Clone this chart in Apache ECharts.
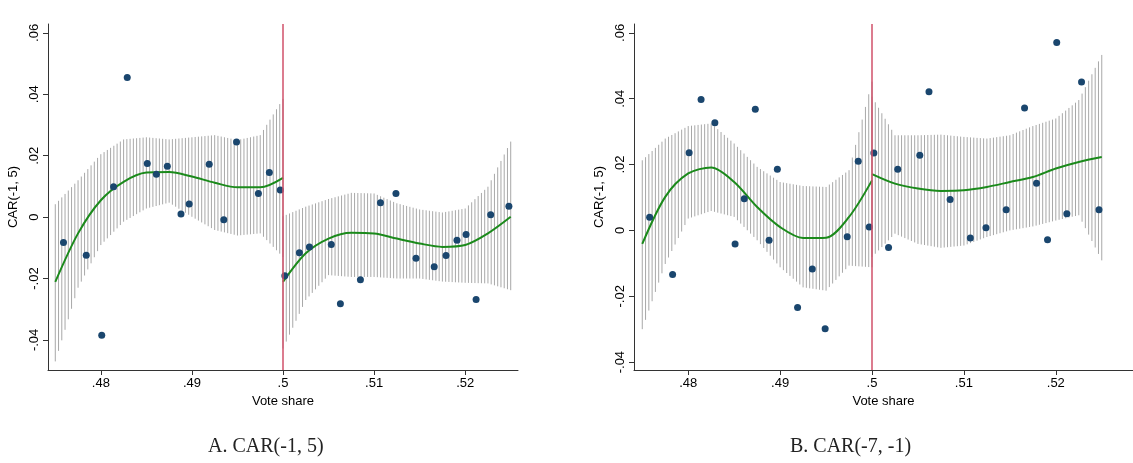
<!DOCTYPE html>
<html><head><meta charset="utf-8">
<script src="https://cdn.jsdelivr.net/npm/echarts@6/dist/echarts.min.js"></script>
<style>body{margin:0;background:#fff}#main{width:1133px;height:463px}</style>
</head><body><div id="main"></div>
<script>
// scatter bins, panel A
var ptsA = [[0.4759,-0.0083],[0.4784,-0.0124],[0.4801,-0.0385],[0.4814,0.0099],[0.4829,0.0455],[0.4851,0.0175],[0.4861,0.0140],[0.4873,0.0166],[0.4888,0.0010],[0.4897,0.0043],[0.4919,0.0172],[0.4935,-0.0009],[0.4949,0.0245],[0.4973,0.0077],[0.4985,0.0145],[0.4997,0.0088],
  [0.5002,-0.0191],[0.5018,-0.0116],[0.5029,-0.0097],[0.5053,-0.0089],[0.5063,-0.0282],[0.5085,-0.0204],[0.5107,0.0047],[0.5124,0.0077],[0.5146,-0.0134],[0.5166,-0.0162],[0.5179,-0.0125],[0.5191,-0.0075],[0.5201,-0.0057],[0.5212,-0.0268],[0.5228,0.0008],[0.5248,0.0035]];
// scatter bins, panel B
var ptsB = [[0.4758,0.0040],[0.4783,-0.0134],[0.4801,0.0236],[0.4814,0.0398],[0.4829,0.0327],[0.4851,-0.0041],[0.4861,0.0096],[0.4873,0.0368],[0.4888,-0.0030],[0.4897,0.0186],[0.4919,-0.0234],[0.4935,-0.0117],[0.4949,-0.0299],[0.4973,-0.0019],[0.4985,0.0210],[0.4997,0.0010],
  [0.5002,0.0235],[0.5018,-0.0052],[0.5028,0.0186],[0.5052,0.0228],[0.5062,0.0421],[0.5085,0.0094],[0.5107,-0.0023],[0.5124,0.0008],[0.5146,0.0063],[0.5166,0.0372],[0.5179,0.0143],[0.5191,-0.0028],[0.5201,0.0571],[0.5212,0.0051],[0.5228,0.0451],[0.5247,0.0063]];

var knotsL = [0.475,0.4775,0.48,0.4825,0.485,0.4875,0.49,0.4925,0.495,0.4975,0.5];
var knotsR = [0.5,0.5025,0.505,0.5075,0.51,0.5125,0.515,0.5175,0.52,0.5225,0.525];

var fitAL = [-0.0211,-0.0053,0.0055,0.0115,0.0145,0.0147,0.0132,0.0112,0.0097,0.0097,0.0128];
var hiAL  = [0.0042,0.0120,0.0205,0.0253,0.0260,0.0253,0.0260,0.0267,0.0251,0.0267,0.0385];
var loAL  = [-0.0470,-0.0230,-0.0091,-0.0015,0.0028,0.0047,0.0001,-0.0042,-0.0060,-0.0053,-0.0130];
var fitAR = [-0.0211,-0.0118,-0.0070,-0.0051,-0.0053,-0.0070,-0.0086,-0.0097,-0.0091,-0.0053,0.0001];
var hiAR  = [0.0003,0.0034,0.0059,0.0079,0.0077,0.0045,0.0025,0.0015,0.0028,0.0099,0.0246];
var loAR  = [-0.0428,-0.0270,-0.0189,-0.0195,-0.0195,-0.0200,-0.0200,-0.0210,-0.0214,-0.0216,-0.0238];

var fitBL = [-0.0041,0.0102,0.0173,0.0191,0.0147,0.0071,0.0010,-0.0023,-0.0022,0.0041,0.0152];
var hiBL  = [0.0213,0.0279,0.0317,0.0325,0.0264,0.0193,0.0147,0.0135,0.0132,0.0183,0.0452];
var loBL  = [-0.0300,-0.0102,0.0036,0.0059,0.0041,-0.0030,-0.0112,-0.0173,-0.0183,-0.0107,-0.0112];
var fitBR = [0.0171,0.0142,0.0127,0.0120,0.0122,0.0132,0.0147,0.0162,0.0188,0.0208,0.0223];
var hiBR  = [0.0406,0.0289,0.0289,0.0291,0.0284,0.0279,0.0289,0.0317,0.0340,0.0396,0.0533];
var loBR  = [-0.0081,-0.0010,-0.0041,-0.0053,-0.0046,-0.0020,0.0000,0.0012,0.0030,0.0046,-0.0091];

var yTicks = [-0.04,-0.02,0,0.02,0.04,0.06];
var xTicks = [0.48,0.49,0.5,0.51,0.52];

function fmt(v){ if (Math.abs(v) < 1e-9) return '0'; var s = (+v.toFixed(2)).toString(); return s.replace('0.', '.'); }
function pairs(xs, ys){ return xs.map(function(x,i){ return [x, ys[i]]; }); }
function segs(xs, lo, hi){
  var out = [];
  for (var i = 0; i < xs.length - 1; i++) out.push([xs[i], lo[i], hi[i], xs[i+1], lo[i+1], hi[i+1], i === xs.length - 2 ? 1 : 0]);
  return out;
}
// hatched CI: vertical lines drawn across each knot segment
function renderCI(params, api){
  var a0 = api.coord([api.value(0), api.value(1)]), b0 = api.coord([api.value(0), api.value(2)]);
  var a1 = api.coord([api.value(3), api.value(4)]), b1 = api.coord([api.value(3), api.value(5)]);
  var n = 7, kids = [], last = api.value(6) ? n : n - 1;
  for (var k = 0; k <= last; k++) {
    var t = k / n;
    var x = a0[0] + (a1[0] - a0[0]) * t;
    kids.push({type:'line', shape:{x1:x, y1:a0[1] + (a1[1]-a0[1])*t, x2:x, y2:b0[1] + (b1[1]-b0[1])*t},
      style:{stroke:'#a8a8a8', lineWidth:1}});
  }
  return {type:'group', children:kids};
}

var grids = [
  {left:48, top:24, width:470, height:346, xmin:0.4742, xmax:0.5258, ymin:-0.0498, ymax:0.0629},
  {left:634, top:24, width:499, height:346, xmin:0.4741, xmax:0.5284, ymin:-0.0424, ymax:0.0627}
];
var panels = [
  {pts:ptsA, fL:fitAL, hL:hiAL, lL:loAL, fR:fitAR, hR:hiAR, lR:loAR},
  {pts:ptsB, fL:fitBL, hL:hiBL, lL:loBL, fR:fitBR, hR:hiBR, lR:loBR}
];

var option = {
  animation:false,
  textStyle:{fontFamily:'Liberation Sans, Arial'},
  grid: grids.map(function(g){ return {left:g.left, top:g.top, width:g.width, height:g.height}; }),
  xAxis: grids.map(function(g,i){ return {gridIndex:i, type:'value', min:g.xmin, max:g.xmax,
    name:'Vote share', nameLocation:'middle', nameGap:20, nameTextStyle:{color:'#000', fontSize:13},
    axisLine:{onZero:false, lineStyle:{color:'#333'}}, axisTick:{customValues:xTicks, length:5, lineStyle:{color:'#333'}},
    axisLabel:{customValues:xTicks, formatter:fmt, color:'#000', fontSize:13, margin:7},
    splitLine:{show:false}}; }),
  yAxis: grids.map(function(g,i){ return {gridIndex:i, type:'value', min:g.ymin, max:g.ymax,
    name:'CAR(-1, 5)', nameLocation:'middle', nameGap:28, nameTextStyle:{color:'#000', fontSize:13},
    axisLine:{show:true, onZero:false, lineStyle:{color:'#333'}}, axisTick:{show:true, customValues:yTicks, length:5, lineStyle:{color:'#333'}},
    axisLabel:{customValues:yTicks, formatter:fmt, rotate:90, color:'#000', fontSize:13, margin:7},
    splitLine:{show:false}}; }),
  graphic:[
    {type:'text', left:208, top:437, style:{text:'A. CAR(-1, 5)', font:'20px "Liberation Serif", serif', fill:'#222'}},
    {type:'text', left:790, top:437, style:{text:'B. CAR(-7, -1)', font:'20px "Liberation Serif", serif', fill:'#222'}}
  ],
  series: []
};

panels.forEach(function(p, i){
  option.series.push(
    {type:'custom', xAxisIndex:i, yAxisIndex:i, renderItem:renderCI, data:segs(knotsL, p.lL, p.hL), encode:{x:[0,3], y:[1,2,4,5]}, z:1},
    {type:'custom', xAxisIndex:i, yAxisIndex:i, renderItem:renderCI, data:segs(knotsR, p.lR, p.hR), encode:{x:[0,3], y:[1,2,4,5]}, z:1},
    {type:'line', xAxisIndex:i, yAxisIndex:i, data:pairs(knotsL, p.fL), smooth:0.3, showSymbol:false, lineStyle:{color:'#1b8a1b', width:2}, z:3,
      markLine:{silent:true, symbol:'none', label:{show:false}, lineStyle:{color:'#d0506a', width:1.5, type:'solid'}, data:[{xAxis:0.5}]}},
    {type:'line', xAxisIndex:i, yAxisIndex:i, data:pairs(knotsR, p.fR), smooth:0.3, showSymbol:false, lineStyle:{color:'#1b8a1b', width:2}, z:3},
    {type:'scatter', xAxisIndex:i, yAxisIndex:i, data:p.pts, symbolSize:7, itemStyle:{color:'#1a466e', opacity:1}, z:4}
  );
});

var chart = echarts.init(document.getElementById('main'));
chart.setOption(option);
</script></body></html>
